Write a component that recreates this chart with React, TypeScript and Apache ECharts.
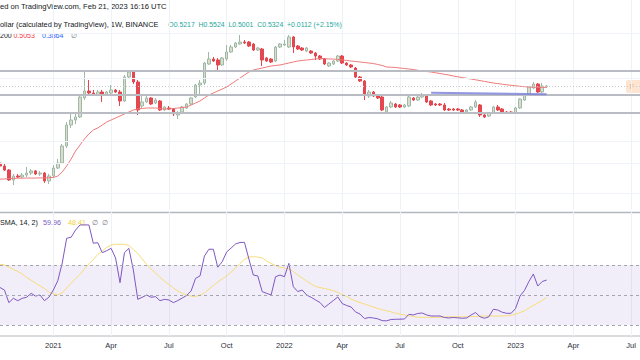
import React, { useEffect, useRef } from "react";
import * as echarts from "echarts";

// weekly bars, first bar week of 2020-10-12
const START_UTC = Date.UTC(2020, 9, 12);
const WEEK_COUNT = 145;
const MONTHS = ["Jan", "Feb", "Mar", "Apr", "May", "Jun", "Jul", "Aug", "Sep", "Oct", "Nov", "Dec"];

const opens = [
  0.0307, 0.0275, 0.0237, 0.0164, 0.019, 0.0183, 0.0197, 0.0212, 0.0229, 0.0205, 0.0212, 0.0158, 0.019, 0.0255, 0.0307,
  0.0577, 0.1256, 0.1511, 0.1689, 0.3414, 0.4424, 0.4108, 0.3815, 0.4263, 0.3815, 0.4108, 0.4591, 0.4263, 0.3055, 0.743,
  0.8942, 0.6174, 0.2538, 0.2944, 0.3414, 0.2837, 0.3055, 0.2189, 0.2357, 0.2271, 0.1819, 0.2033, 0.2357, 0.2733, 0.3542,
  0.5525, 0.595, 1.203, 1.447, 1.395, 1.159, 1.447, 1.876, 2.257, 2.522, 2.716, 2.716, 2.522, 2.02, 2.096, 1.502, 1.447,
  1.344, 2.257, 2.431, 2.257, 3.269, 2.342, 2.175, 1.946, 1.946, 1.807, 1.617, 1.447, 1.117, 1.203, 1.344, 1.617, 1.248,
  1.159, 1.037, 0.743, 0.6407, 0.3676, 0.4263, 0.3815, 0.3542, 0.2033, 0.2446, 0.2733, 0.2634, 0.2446, 0.2538, 0.3414,
  0.317, 0.3542, 0.3815, 0.3055, 0.2733, 0.2733, 0.2634, 0.2271, 0.2271, 0.2271, 0.2189, 0.2033, 0.2189, 0.2446, 0.2634,
  0.1819, 0.1753, 0.1959, 0.2446, 0.2271, 0.2033, 0.2033, 0.1959, 0.2357, 0.317, 0.3815, 0.4944, 0.5733, 0.4263, 0.5217,
];
const closes = [
  0.0275, 0.0237, 0.0164, 0.019, 0.0183, 0.0197, 0.0212, 0.0229, 0.0205, 0.0212, 0.0158, 0.019, 0.0255, 0.0307, 0.0577,
  0.1256, 0.1511, 0.1689, 0.3542, 0.4424, 0.4108, 0.3815, 0.4263, 0.3815, 0.4263, 0.4591, 0.4263, 0.3055, 0.743, 0.8942,
  0.6174, 0.2189, 0.2944, 0.3414, 0.2733, 0.317, 0.2189, 0.2446, 0.2271, 0.1887, 0.1959, 0.2446, 0.2733, 0.3414, 0.5525,
  0.595, 1.248, 1.447, 1.344, 1.159, 1.502, 1.876, 2.257, 2.617, 2.716, 2.617, 2.342, 2.02, 2.175, 1.395, 1.344, 1.295,
  2.257, 2.522, 2.522, 3.269, 2.257, 2.096, 2.02, 2.175, 1.807, 1.617, 1.447, 1.203, 1.248, 1.344, 1.617, 1.248, 1.159,
  1.076, 0.743, 0.6407, 0.3815, 0.4263, 0.3676, 0.3414, 0.2189, 0.2446, 0.2837, 0.2446, 0.2446, 0.2634, 0.3542, 0.317,
  0.3542, 0.3815, 0.2944, 0.2634, 0.2634, 0.2634, 0.2189, 0.2189, 0.2189, 0.2189, 0.2033, 0.2189, 0.2446, 0.2944, 0.1819,
  0.1689, 0.1959, 0.2446, 0.2189, 0.2033, 0.1959, 0.1959, 0.2357, 0.3289, 0.3815, 0.5131, 0.5733, 0.4263, 0.5324, 0.5324,
];
const lows = [
  0.0265, 0.0229, 0.0158, 0.0136, 0.0176, 0.0176, 0.0183, 0.0197, 0.0197, 0.019, 0.0147, 0.0141, 0.0176, 0.0246, 0.0296,
  0.0536, 0.1124, 0.1303, 0.1627, 0.317, 0.3959, 0.3676, 0.3676, 0.2944, 0.3676, 0.3959, 0.4108, 0.2538, 0.2944, 0.716,
  0.5733, 0.1819, 0.2357, 0.2837, 0.2634, 0.2733, 0.2109, 0.2109, 0.2189, 0.1753, 0.1568, 0.1959, 0.2271, 0.2634, 0.3414,
  0.3815, 0.5525, 1.159, 1.295, 0.9279, 1.117, 1.344, 1.807, 2.175, 2.431, 2.522, 2.257, 1.946, 1.946, 1.117, 1.295, 1.248,
  1.295, 2.175, 2.342, 2.175, 1.807, 2.02, 1.946, 1.876, 1.742, 1.395, 1.395, 1.159, 1.076, 1.159, 1.295, 1.203, 1.117,
  1.037, 0.716, 0.6174, 0.317, 0.3414, 0.3542, 0.3289, 0.2109, 0.1959, 0.2357, 0.2357, 0.2357, 0.2357, 0.2446, 0.3055,
  0.3055, 0.3414, 0.2837, 0.2538, 0.2538, 0.2538, 0.2109, 0.2109, 0.2109, 0.2109, 0.1959, 0.1959, 0.2109, 0.2357, 0.1689,
  0.1627, 0.1689, 0.1887, 0.2109, 0.1959, 0.1887, 0.1887, 0.1887, 0.2271, 0.3055, 0.3676, 0.4764, 0.4108, 0.4108, 0.5001,
];
const highs = [
  0.0331, 0.0296, 0.0246, 0.0205, 0.0205, 0.0212, 0.0265, 0.0246, 0.0237, 0.0229, 0.022, 0.0205, 0.0285, 0.0356, 0.0621,
  0.1403, 0.1959, 0.2033, 0.3815, 0.9279, 0.6649, 0.4591, 0.4591, 0.4591, 0.4424, 0.5525, 0.4764, 0.4591, 0.8002, 0.963,
  0.963, 0.6649, 0.3815, 0.3676, 0.3542, 0.3414, 0.317, 0.2538, 0.2538, 0.2357, 0.2109, 0.2538, 0.2837, 0.3542, 0.5733,
  0.6649, 1.295, 1.876, 1.559, 1.502, 1.559, 2.431, 2.431, 2.716, 3.52, 2.925, 2.819, 2.617, 2.257, 2.175, 1.559, 1.502,
  2.342, 2.617, 2.925, 3.52, 3.392, 2.431, 2.257, 2.257, 2.02, 1.876, 1.678, 1.502, 1.295, 1.395, 1.678, 1.678, 1.295,
  1.203, 1.076, 0.7711, 0.6649, 0.4591, 0.4424, 0.3959, 0.3676, 0.2538, 0.3055, 0.2837, 0.2733, 0.2733, 0.3676, 0.3542,
  0.3676, 0.4108, 0.3959, 0.317, 0.2837, 0.2837, 0.2837, 0.2357, 0.2357, 0.2357, 0.2271, 0.2271, 0.2538, 0.317, 0.2733,
  0.1887, 0.2033, 0.2538, 0.2634, 0.2357, 0.2109, 0.2109, 0.2446, 0.3414, 0.3959, 0.5324, 0.6174, 0.595, 0.595, 0.5524,
];
const movingAvg = [
  0.0169, 0.017, 0.0173, 0.0174, 0.0175, 0.0175, 0.0176, 0.0176, 0.0176, 0.0177, 0.0177, 0.0178, 0.018, 0.019, 0.022,
  0.0275, 0.0356, 0.0479, 0.0599, 0.0748, 0.09, 0.1044, 0.1124, 0.1256, 0.1403, 0.1511, 0.1627, 0.1753, 0.1887, 0.2033,
  0.2189, 0.2271, 0.2314, 0.2357, 0.2357, 0.2357, 0.2314, 0.2271, 0.2271, 0.2314, 0.2357, 0.2401, 0.2446, 0.2634, 0.2837,
  0.3055, 0.3414, 0.3815, 0.4108, 0.4424, 0.4764, 0.5131, 0.5733, 0.6407, 0.716, 0.8002, 0.8942, 0.963, 0.9993, 1.037,
  1.076, 1.117, 1.138, 1.159, 1.203, 1.248, 1.295, 1.344, 1.37, 1.395, 1.421, 1.447, 1.474, 1.474, 1.447, 1.447, 1.421,
  1.395, 1.37, 1.344, 1.319, 1.295, 1.271, 1.248, 1.225, 1.181, 1.138, 1.076, 1.068, 1.056, 1.037, 1.018, 0.9993, 0.981,
  0.9523, 0.9347, 0.9109, 0.8942, 0.868, 0.8459, 0.8211, 0.8002, 0.7711, 0.7486, 0.7294, 0.7081, 0.69, 0.6698, 0.6502,
  0.6313, 0.6128, 0.595, 0.5818, 0.569, 0.5566, 0.5464, 0.5364, 0.5265, 0.5188, 0.5131, 0.5093, 0.5074, 0.506, 0.5053,
];
const rsiValues = [
  55, 53.3, 44.9, 47.8, 46.2, 47.8, 48.5, 51.1, 49.3, 50, 46.2, 48.5, 53.3, 59.5, 71.3, 87.8, 88.5, 93.3, 96.7, 96.7, 96.7,
  84.5, 84.9, 78.2, 79.5, 81.1, 74.7, 58.2, 78.2, 81.1, 66.7, 47.1, 48.5, 50, 48.5, 48.9, 46.2, 47.1, 46.7, 44.9, 46.3, 48,
  49.7, 52.7, 61.1, 62.7, 76, 80.5, 80.5, 68.5, 72.2, 78.7, 81.3, 84, 85, 85.1, 74, 63.3, 62.7, 52.2, 51.1, 50, 62.2, 63.3,
  62.2, 71.1, 55.5, 52.3, 53.3, 50, 48.5, 46.7, 45, 41.7, 44, 46.3, 48.7, 44.3, 43, 42, 38.7, 37.3, 34.3, 35, 34.7, 34.1,
  32.9, 32.8, 33.7, 33.8, 33.9, 34, 37.1, 36.7, 37.7, 38, 36.7, 36, 36, 36, 35, 34.7, 35, 34.8, 34.5, 34.7, 36.7, 38.3,
  35.5, 34.5, 35.5, 40.5, 40, 38.5, 37.8, 37.8, 41, 49.3, 53, 59, 64, 56, 59, 59.96,
];
const rsiSma = [
  70.5, 70, 68.7, 67, 65.7, 64, 61.7, 59.7, 58, 56, 54.3, 52, 50.7, 50.2, 51.3, 54.7, 57.8, 61, 63.8, 67.3, 70.7, 73.7, 77,
  79.3, 81.7, 83.3, 83.8, 83.8, 83.7, 83, 80.3, 77.7, 74, 70.3, 67.3, 64.7, 61.7, 59.3, 57, 54.7, 52.7, 51, 50, 49.3, 49,
  50, 51.3, 54, 56.3, 58.7, 60.7, 62.7, 65.3, 68, 71, 73.7, 75.3, 75.5, 75.3, 74.7, 72.7, 71, 69.7, 68.5, 68, 67.3, 65.7,
  63.3, 61.3, 59.3, 57.3, 55.7, 55, 54.3, 53.7, 52.9, 51.7, 50.3, 49, 47.3, 46, 45, 44, 43, 42, 41, 40.2, 39.5, 38.7, 37.9,
  37.2, 36.7, 36.1, 35.7, 35.2, 35.1, 35.1, 35.1, 35.1, 35.2, 35.3, 35.5, 35.5, 35.5, 35.5, 35.5, 35.6, 35.7, 35.9, 36, 36,
  36, 36, 36, 36.1, 36.5, 37.2, 38.3, 39.5, 41.3, 43, 44.7, 46.3, 48.41,
];
const levelPrices = [0.9279, 0.3815, 0.1959];
const gridPrices = [3.8, 0.7, 0.07, 0.03, 0.015];
const lastPrice = 0.5324;
const trendStartWeek = 97;
const trendEndWeek = 123;
const trendStartPrice = 0.4154;
const trendEndPrice = 0.3915;

const FONT = "'Liberation Sans', Arial, sans-serif";

const weeks: string[] = [];
for (let i = 0; i < WEEK_COUNT; i++) {
  weeks.push(new Date(START_UTC + i * 7 * 86400000).toISOString().slice(0, 10));
}
const isQuarterTick = (v: string) => {
  const d = new Date(v + "T00:00:00Z");
  return d.getUTCDate() <= 7 && d.getUTCMonth() % 3 === 0;
};
const tickText = (v: string) => {
  const d = new Date(v + "T00:00:00Z");
  return d.getUTCMonth() === 0 ? String(d.getUTCFullYear()) : MONTHS[d.getUTCMonth()];
};

const STEP = 4.46;
const GRID_LEFT = -1.26;
const GRID_WIDTH = STEP * (WEEK_COUNT - 1);

function txt(x: number, y: number, text: string, fill: string, size = 7.5) {
  return {
    type: "text",
    x,
    y,
    silent: true,
    style: { text, fill, fontSize: size, fontFamily: FONT, verticalAlign: "middle", align: "left" },
  };
}

export default function App() {
  const ref = useRef<HTMLDivElement>(null);
  useEffect(() => {
    document.body.style.margin = "0";
    const chart = echarts.init(ref.current!, null, { renderer: "svg" });
    const candles = opens.map((o, i) => [o, closes[i], lows[i], highs[i]]);
    const vSplit = {
      show: true,
      interval: (_i: number, v: string) => isQuarterTick(v),
      lineStyle: { color: "#eef1f6", width: 1 },
    };
    const option: any = {
      animation: false,
      backgroundColor: "#ffffff",
      grid: [
        { left: GRID_LEFT, top: 0, width: GRID_WIDTH, height: 210 },
        { left: GRID_LEFT, top: 212, width: GRID_WIDTH, height: 124 },
      ],
      xAxis: [
        {
          type: "category",
          gridIndex: 0,
          data: weeks,
          boundaryGap: false,
          axisLine: { show: false },
          axisTick: { show: false },
          axisLabel: { show: false },
          splitLine: vSplit,
        },
        {
          type: "category",
          gridIndex: 1,
          data: weeks,
          boundaryGap: false,
          axisLine: { show: false },
          axisTick: { show: false },
          axisLabel: {
            show: true,
            interval: (_i: number, v: string) => isQuarterTick(v),
            formatter: (v: string) => tickText(v),
            color: "#2a2e39",
            fontSize: 7.5,
            fontFamily: FONT,
            margin: 5,
          },
          splitLine: vSplit,
        },
      ],
      yAxis: [
        {
          type: "log",
          gridIndex: 0,
          min: 0.005392,
          max: 12.87,
          show: false,
          splitLine: { show: false },
        },
        {
          type: "value",
          gridIndex: 1,
          min: 22.67,
          max: 105.33,
          show: false,
          splitLine: { show: false },
        },
      ],
      series: [
        {
          type: "line",
          xAxisIndex: 0,
          yAxisIndex: 0,
          data: [],
          markLine: {
            silent: true,
            symbol: "none",
            label: { show: false },
            lineStyle: { color: "#f0f3fa", width: 1, type: "solid" },
            data: gridPrices.map((p) => ({ yAxis: p })),
          },
        },
        {
          type: "candlestick",
          xAxisIndex: 0,
          yAxisIndex: 0,
          data: candles,
          barWidth: 3,
          itemStyle: {
            color: "#dcdccb",
            color0: "#e4474f",
            borderColor: "#9fb9a8",
            borderColor0: "#e4474f",
            borderWidth: 1,
          },
          markLine: {
            silent: true,
            symbol: "none",
            label: { show: false },
            data: [
              ...levelPrices.map((p) => ({ yAxis: p, lineStyle: { color: "#b9bcc3", width: 2, type: "solid" } })),
              { yAxis: lastPrice, lineStyle: { color: "#c9ccd3", width: 1, type: [1, 2] } },
            ],
          },
        },
        {
          type: "line",
          xAxisIndex: 0,
          yAxisIndex: 0,
          data: movingAvg,
          symbol: "none",
          lineStyle: { color: "#ef7a7a", width: 1 },
          markLine: {
            silent: true,
            symbol: "none",
            label: { show: false },
            lineStyle: { color: "#7f83dd", width: 2, type: "solid", opacity: 0.85 },
            data: [
              [
                { coord: [weeks[trendStartWeek], trendStartPrice] },
                { coord: [weeks[trendEndWeek], trendEndPrice] },
              ],
            ],
          },
        },
        {
          type: "line",
          xAxisIndex: 1,
          yAxisIndex: 1,
          data: rsiSma,
          symbol: "none",
          lineStyle: { color: "#f6dc78", width: 1 },
          markArea: {
            silent: true,
            itemStyle: { color: "rgba(126,87,194,0.1)" },
            data: [[{ yAxis: 70 }, { yAxis: 30 }]],
          },
          markLine: {
            silent: true,
            symbol: "none",
            label: { show: false },
            lineStyle: { color: "#a3a6af", width: 1, type: [3, 3] },
            data: [{ yAxis: 70 }, { yAxis: 50 }, { yAxis: 30 }],
          },
        },
        {
          type: "line",
          xAxisIndex: 1,
          yAxisIndex: 1,
          data: rsiValues,
          symbol: "none",
          lineStyle: { color: "#7e57c2", width: 1 },
        },
      ],
      graphic: [
        { type: "line", silent: true, shape: { x1: 0, y1: 212.5, x2: 640, y2: 212.5 }, style: { stroke: "#b4b7bf", lineWidth: 1.5 } },
        { type: "line", silent: true, shape: { x1: 0, y1: 336, x2: 640, y2: 336 }, style: { stroke: "#b4b7bf", lineWidth: 1.2 } },
        txt(0, 6.5, "ed on TradingView.com, Feb 21, 2023 16:16 UTC", "#131722", 7.6),
        txt(0, 24.5, "ollar (calculated by TradingView), 1W, BINANCE", "#131722", 7.4),
        txt(168.3, 24.5, "O0.5217  H0.5524  L0.5001  C0.5324  +0.0112 (+2.15%)", "#26a69a", 6.9),
        txt(0, 35, "200", "#131722", 7),
        txt(13.5, 35, "0.5053", "#f23645", 7),
        txt(42, 35, "0.3864", "#2962ff", 7),
        txt(71, 35, "\u2205", "#787b86", 7),
        txt(0, 222.7, "SMA, 14, 2)", "#131722", 7.2),
        txt(43, 222.7, "59.96", "#7e57c2", 7.2),
        txt(68, 222.7, "48.41", "#f2cf3a", 7.2),
        txt(92, 222.7, "\u2205", "#787b86", 7.2),
        txt(102, 222.7, "\u2205", "#787b86", 7.2),
        { type: "rect", silent: true, shape: { x: 626, y: 80, width: 20, height: 13, r: 2 }, style: { fill: "#fde5d1" } },
        txt(629.5, 86.8, "F", "#f5ae76", 8),
      ],
    };
    chart.setOption(option);
    return () => chart.dispose();
  }, []);
  return <div ref={ref} style={{ width: 640, height: 360 }} />;
}
